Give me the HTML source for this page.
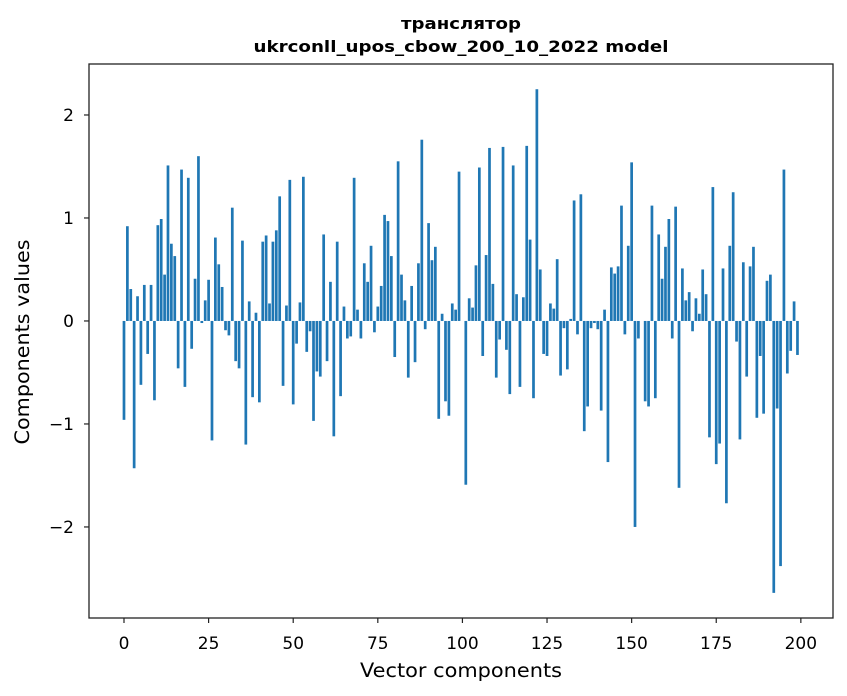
<!DOCTYPE html>
<html><head><meta charset="utf-8"><style>
html,body{margin:0;padding:0;background:#fff;}
svg{display:block;font-family:"DejaVu Sans","Liberation Sans",sans-serif;}
</style></head><body>
<svg id="chart" width="847" height="696" viewBox="0 0 847 696" xmlns="http://www.w3.org/2000/svg">
<rect width="847" height="696" fill="#fff"/>
<text x="461" y="29" text-anchor="middle" font-weight="bold" font-size="16" textLength="120" lengthAdjust="spacingAndGlyphs">транслятор</text>
<text x="461" y="52" text-anchor="middle" font-weight="bold" font-size="16" textLength="415" lengthAdjust="spacingAndGlyphs">ukrconll_upos_cbow_200_10_2022 model</text>
<g id="bars"></g>
<g id="xticks"></g>
<g id="yticks"></g>
<rect x="89" y="64" width="744" height="554" fill="none" stroke="#222" stroke-width="1.3"/>
<text x="461" y="677" text-anchor="middle" font-size="19.5" textLength="202" lengthAdjust="spacingAndGlyphs">Vector components</text>
<text transform="translate(29,342) rotate(-90)" text-anchor="middle" font-size="19.5" textLength="205" lengthAdjust="spacingAndGlyphs">Components values</text>
</svg>
<script>
const values = [-0.96,0.92,0.31,-1.43,0.24,-0.62,0.35,-0.32,0.35,-0.77,
0.93,0.99,0.45,1.51,0.75,0.63,-0.46,1.47,-0.64,1.39,
-0.27,0.41,1.60,-0.02,0.20,0.40,-1.16,0.81,0.55,0.33,
-0.09,-0.14,1.10,-0.39,-0.46,0.78,-1.20,0.19,-0.74,0.08,
-0.79,0.77,0.83,0.17,0.77,0.88,1.21,-0.63,0.15,1.37,
-0.81,-0.22,0.18,1.40,-0.30,-0.10,-0.97,-0.49,-0.54,0.84,
-0.39,0.38,-1.12,0.77,-0.73,0.14,-0.17,-0.15,1.39,0.11,
-0.17,0.56,0.38,0.73,-0.11,0.14,0.34,1.03,0.97,0.63,
-0.35,1.55,0.45,0.20,-0.55,0.34,-0.40,0.56,1.76,-0.08,
0.95,0.59,0.72,-0.95,0.07,-0.78,-0.92,0.17,0.11,1.45,
0.00,-1.59,0.22,0.13,0.54,1.49,-0.34,0.64,1.68,0.36,
-0.55,-0.18,1.69,-0.28,-0.71,1.51,0.26,-0.64,0.23,1.70,
0.79,-0.75,2.25,0.50,-0.32,-0.34,0.17,0.12,0.60,-0.53,
-0.07,-0.47,0.02,1.17,-0.13,1.23,-1.07,-0.83,-0.07,-0.02,
-0.08,-0.87,0.11,-1.37,0.52,0.46,0.53,1.12,-0.13,0.73,
1.54,-2.00,-0.17,0.00,-0.78,-0.83,1.12,-0.75,0.84,0.41,
0.72,0.99,-0.17,1.11,-1.62,0.51,0.20,0.28,-0.10,0.22,
0.07,0.50,0.26,-1.13,1.30,-1.39,-1.19,0.51,-1.77,0.73,
1.25,-0.20,-1.15,0.57,-0.54,0.53,0.72,-0.94,-0.34,-0.90,
0.39,0.45,-2.64,-0.85,-2.38,1.47,-0.51,-0.29,0.19,-0.33];
const xTicks = [0,25,50,75,100,125,150,175,200];
const yTicks = [-2,-1,0,1,2];
const yTickLabels = ["\u22122","\u22121","0","1","2"];
const NS="http://www.w3.org/2000/svg";
const L=89,R=833,T=64,B=618;
const xMin=-10.34,xMax=209.5,yMin=-2.884,yMax=2.495;
function xs(v){return L+(v-xMin)/(xMax-xMin)*(R-L);}
function ys(v){return B-(v-yMin)/(yMax-yMin)*(B-T);}
const gb=document.getElementById('bars');
values.forEach((v,i)=>{
  const r=document.createElementNS(NS,'rect');
  const x0=xs(i-0.4),x1=xs(i+0.4);
  const y0=ys(Math.max(v,0)),y1=ys(Math.min(v,0));
  r.setAttribute('x',x0);r.setAttribute('width',x1-x0);
  r.setAttribute('y',y0);r.setAttribute('height',Math.max(y1-y0,0));
  r.setAttribute('fill','#1f77b4');
  
  
  gb.appendChild(r);
});
const gx=document.getElementById('xticks');
xTicks.forEach(t=>{
  const X=xs(t);
  const l=document.createElementNS(NS,'line');
  l.setAttribute('x1',X);l.setAttribute('x2',X);l.setAttribute('y1',B);l.setAttribute('y2',B+5);
  l.setAttribute('stroke','#222');l.setAttribute('stroke-width','1.2');
  
  
  gx.appendChild(l);
  const tx=document.createElementNS(NS,'text');
  tx.setAttribute('x',X);tx.setAttribute('y',649);tx.setAttribute('text-anchor','middle');tx.setAttribute('font-size','17');
  tx.textContent=t;
  
  
  gx.appendChild(tx);
});
const gy=document.getElementById('yticks');
yTicks.forEach((t,k)=>{
  const Y=ys(t);
  const l=document.createElementNS(NS,'line');
  l.setAttribute('x1',L-5);l.setAttribute('x2',L);l.setAttribute('y1',Y);l.setAttribute('y2',Y);
  l.setAttribute('stroke','#222');l.setAttribute('stroke-width','1.2');
  
  
  gy.appendChild(l);
  const tx=document.createElementNS(NS,'text');
  tx.setAttribute('x',L-15);tx.setAttribute('y',Y+6);tx.setAttribute('text-anchor','end');tx.setAttribute('font-size','17');
  tx.textContent=yTickLabels[k];
  
  
  gy.appendChild(tx);
});
</script>
</body></html>
